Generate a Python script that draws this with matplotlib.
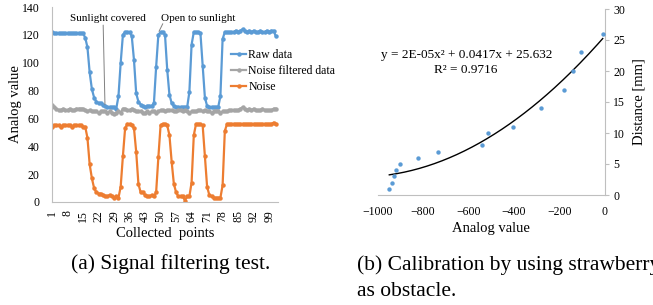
import numpy as np
import matplotlib
matplotlib.use("Agg")
import matplotlib.pyplot as plt

plt.rcParams['font.family'] = ['Liberation Serif', 'DejaVu Serif']

# ---------------- data: (a) signal filtering ----------------
raw = [122,121,121,121,121,121,121,121,121,121,121,121,121,121,121,
       118,111,93,81,75,72,71,71,70,69,68,68,68,68,67,
       76,100,120,122,122,122,119,102,78,72,
       70,69,68,69,69,69,71,97,120,122,
       122,120,95,77,71,69,68,68,68,68,
       68,68,79,113,122,122,122,121,98,75,
       69,68,68,68,68,68,76,117,122,122,
       122,122,122,123,122,123,124,123,122,123,
       122,123,122,122,123,122,122,123,122,123,
       123,119]
filtered = [70,68,67,66,66,67,66,66,67,66,66,67,67,67,67,
            66,65,66,65,65,65,64,65,65,65,64,65,64,63,64,
            65,64,67,67,66,66,67,66,65,65,
            65,64,64,65,64,65,65,64,65,66,
            66,65,66,66,66,65,65,66,66,65,
            66,65,64,65,65,65,66,66,65,66,
            65,65,64,65,65,65,64,65,65,65,
            66,66,66,66,66,67,68,67,66,67,
            66,67,66,66,66,67,66,66,66,66,
            67,67]
noise = [54,55,55,55,54,55,55,55,55,54,55,55,55,55,54,
         54,46,27,17,10,7,6,6,5,4,4,5,4,3,4,
         3,11,33,53,56,56,55,53,36,13,
         7,7,5,4,4,5,4,7,32,55,
         56,56,55,48,29,13,7,4,4,4,
         1,4,4,14,48,56,56,56,55,33,
         11,5,4,3,3,3,3,12,51,56,
         56,56,56,56,56,56,56,56,56,56,
         56,56,56,56,56,56,56,56,56,56,
         57,56]
points = list(range(1, len(raw) + 1))
xtick_labels = list(range(1, 100, 7))

# ---------------- data: (b) calibration ----------------
analog = [-949,-938,-927,-919,-902,-821,-733,-543,-513,-403,-282,-180,-142,-106,-10]
distance = [1,2,3,4,5,6,7,8,10,11,14,17,20,23,26]
eq_text = "y = 2E-05x\u00b2 + 0.0417x + 25.632"
r2_text = "R\u00b2 = 0.9716"

BLUE = '#5B9BD5'
GRAY = '#A5A5A5'
ORANGE = '#ED7D31'
AXC = '#BFBFBF'

W, H = 653, 305
fig = plt.figure(figsize=(W/100, H/100), dpi=100)

def fx(px):
    return px / W

def fy(py):
    return 1 - py / H

# ---------- left plot ----------
axA = fig.add_axes([fx(52), fy(202), fx(278) - fx(52), fy(7) - fy(202)])
axA.plot(points, raw, color=BLUE, lw=1.6, marker='o', ms=2.2, label='Raw data')
axA.plot(points, filtered, color=GRAY, lw=1.6, marker='o', ms=2.2, label='Noise filtered data')
axA.plot(points, noise, color=ORANGE, lw=1.6, marker='o', ms=2.2, label='Noise')
axA.set_xlim(1, 103)
axA.set_ylim(0, 140)
axA.set_yticks(range(0, 141, 20))
axA.set_xticks(xtick_labels)
axA.set_xticklabels([str(v) for v in xtick_labels], rotation=90)
for s in ['top', 'right']:
    axA.spines[s].set_visible(False)
for s in ['left', 'bottom']:
    axA.spines[s].set_color(AXC)
axA.tick_params(axis='y', length=0, labelsize=8.5, pad=9)
axA.tick_params(axis='x', length=0, labelsize=8.5, pad=6)
axA.set_ylabel('Analog value', fontsize=10.5, labelpad=0)
axA.set_xlabel('Collected  points', fontsize=10.5, labelpad=3)

leg = axA.legend(loc='upper left', bbox_to_anchor=(fx(231), fy(49)),
                 bbox_transform=fig.transFigure, frameon=False, fontsize=8.5,
                 handlelength=1.3, handletextpad=0.15, labelspacing=0.33,
                 borderpad=0, borderaxespad=0)

# annotations
axA.annotate('', xy=(24.9, 70), xytext=(24.1, 127),
             arrowprops=dict(arrowstyle='-', color='#808080', lw=0.7, shrinkA=0, shrinkB=0))
axA.text(26.2, 132, 'Sunlight covered', fontsize=8, ha='center', va='center')
axA.annotate('', xy=(49.3, 122.5), xytext=(51.0, 128),
             arrowprops=dict(arrowstyle='-', color='#808080', lw=0.7, shrinkA=0, shrinkB=0))
axA.text(66.8, 132, 'Open to sunlight', fontsize=8, ha='center', va='center')

# ---------- right plot ----------
axB = fig.add_axes([fx(377.7), fy(195), fx(605) - fx(377.7), fy(9) - fy(195)])
axB.scatter(analog, distance, s=10, color=BLUE, zorder=3, linewidths=0)
coef = np.polyfit(analog, distance, 2)
xs = np.linspace(min(analog), max(analog), 200)
axB.plot(xs, np.polyval(coef, xs), color='black', lw=1.0, zorder=2)
axB.set_xlim(-1000, 0)
axB.set_ylim(0, 30)
axB.set_xticks(range(-1000, 1, 200))
axB.set_yticks(range(0, 31, 5))
axB.spines['left'].set_visible(False)
axB.spines['top'].set_visible(False)
axB.spines['right'].set_color(AXC)
axB.spines['bottom'].set_color(AXC)
axB.yaxis.tick_right()
axB.yaxis.set_label_position('right')
axB.tick_params(axis='y', length=3, color=AXC, labelsize=8.5, pad=3)
axB.tick_params(axis='x', length=0, labelsize=8.5, pad=8)
axB.set_ylabel('Distance [mm]', fontsize=10.5, labelpad=5)
axB.set_xlabel('Analog value', fontsize=10.5, labelpad=3)
axB.text(fx(467), fy(55), eq_text, transform=fig.transFigure, fontsize=9.5,
         ha='center', va='center')
axB.text(fx(466), fy(70), r2_text, transform=fig.transFigure, fontsize=9.5,
         ha='center', va='center')

# ---------- captions ----------
fig.text(fx(71), fy(264), '(a) Signal filtering test.', fontsize=15.5, ha='left', va='center')
fig.text(fx(357), fy(265), '(b) Calibration by using strawberry', fontsize=15.5, ha='left', va='center')
fig.text(fx(357), fy(292), 'as obstacle.', fontsize=15.5, ha='left', va='center')

fig.savefig('out.png', dpi=100)
